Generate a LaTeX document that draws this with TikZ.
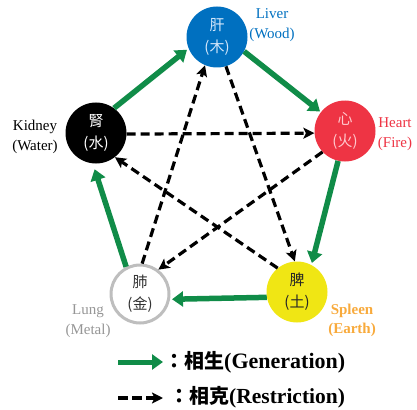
\documentclass[tikz,border=0pt]{standalone}
\usepackage{fontspec}
\setmainfont{Liberation Serif}
\newfontfamily\cjk{Noto Sans CJK TC}
\usetikzlibrary{arrows.meta}
\definecolor{livercol}{RGB}{0,112,192}
\definecolor{heartcol}{RGB}{238,52,68}
\definecolor{spleencol}{RGB}{240,230,20}
\definecolor{lungcol}{RGB}{190,190,190}
\definecolor{lunglab}{RGB}{150,150,150}
\definecolor{spleenlab}{RGB}{248,170,60}
\definecolor{gencol}{RGB}{16,140,72}
\definecolor{livertxt}{RGB}{210,230,250}
\definecolor{hearttxt}{RGB}{255,200,205}
\begin{document}
\begin{tikzpicture}[x=1pt,y=-1pt,
  organ/.style={circle, minimum size=61pt, inner sep=0pt, align=center,
    font=\cjk\fontsize{15}{22}\selectfont},
  lab/.style={align=center, inner sep=0pt, font=\fontsize{15}{19.5}\selectfont},
  gen/.style={draw=gencol, line width=5.5pt, -{Triangle[length=11pt,width=15pt]}},
  res/.style={draw=black, line width=3.2pt, dash pattern=on 9pt off 5pt,
    -{Stealth[length=11pt,width=11pt,inset=2.5pt]}},
  legtext/.style={anchor=west, inner sep=0pt}]
\useasboundingbox (0,0) rectangle (417,409);

\node[organ, fill=livercol, text=livertxt] (liver) at (217,37) {肝\\(木)};
\node[organ, fill=heartcol, text=hearttxt] (heart) at (345,131) {心\\(火)};
\node[organ, fill=spleencol, text=black!85] (spleen) at (297,292) {脾\\(土)};
\node[organ, fill=white, draw=lungcol, line width=3pt, minimum size=58pt, text=black!80] (lung) at (140,294) {肺\\(金)};
\node[organ, fill=black, text=white] (kidney) at (96,133) {腎\\(水)};

\node[lab, text=livercol] (liverlab) at (272,25) {Liver\\(Wood)};
\node[lab, text=black] (kidneylab) at (35,137) {Kidney\\(Water)};
\node[lab, text=heartcol] (heartlab) at (395,134) {Heart\\(Fire)};
\node[lab, text=lunglab] (lunglab) at (88,321) {Lung\\(Metal)};
\node[lab, text=spleenlab, font=\bfseries\fontsize{15}{19.5}\selectfont] (spleenlab) at (352,320.5) {Spleen\\(Earth)};

% generation
\draw[gen, shorten >=2pt] (kidney.54) -- (liver.202);
\draw[gen, shorten >=1pt] (liver.332) -- (heart.142);
\draw[gen, shorten >=2pt] (heart.257) -- (spleen.62);
\draw[gen, shorten >=2pt] (spleen.190) -- (lung.350);
\draw[gen, shorten >=6pt] (lung.117) -- (kidney.264);

% restriction
\draw[res] (liver.287) -- (spleen.94);
\draw[res] (spleen.129) -- (kidney.308);
\draw[res] (kidney.358) -- (heart.184);
\draw[res] (heart.223) -- (lung.53);
\draw[res] (lung.86) -- (liver.247);

% legend
\coordinate (g1) at (118,362);
\coordinate (g2) at (163,362);
\coordinate (r1) at (118,398);
\coordinate (r2) at (163,398);
\draw[gen, line width=5pt] (g1) -- (g2);
\draw[res, dash pattern=on 10pt off 4pt] (r1) -- (r2);
\node[legtext] (gtext) at (164,362) {{\cjk\bfseries\fontsize{20}{20}\selectfont ：相生}{\bfseries\fontsize{22}{22}\selectfont (Generation)}};
\node[legtext] (rtext) at (169,397) {{\cjk\bfseries\fontsize{20}{20}\selectfont ：相克}{\bfseries\fontsize{21.5}{22}\selectfont (Restriction)}};
\end{tikzpicture}
\end{document}
